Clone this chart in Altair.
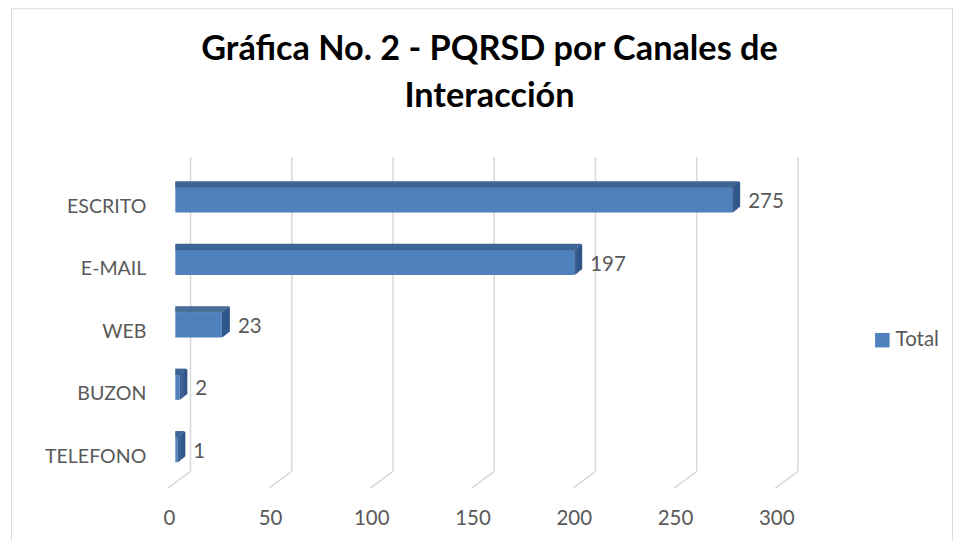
import altair as alt
import pandas as pd

# ---- data ----
CATEGORIES = ["ESCRITO", "E-MAIL", "WEB", "BUZON", "TELEFONO"]
VALUES = [275, 197, 23, 2, 1]
SERIES = "Total"
TICKS = [0, 50, 100, 150, 200, 250, 300]
TITLE_LINES = ["Gráfica No. 2 - PQRSD por Canales de", "Interacción"]

bars = pd.DataFrame({
    "canal": CATEGORIES,
    "valor": VALUES,
    "serie": [SERIES] * len(CATEGORIES),
})
ticks = pd.DataFrame({"tick": TICKS})
one = pd.DataFrame({"k": [0]})

# ---- style ----
FONT = "Lato"
FRONT = "#4f81bd"
TOP = "#3e6592"
SIDE = "#30568a"
GRID = "#d9d9d9"
TXT = "#595959"
LBL = 20.5
CAT_LBL = 19.6
BAND = 62.5          # px per category band
FRONT_H = 25.0       # px, front face height
DEPTH_X = 7.5        # px, 3-D depth offset to the right
DEPTH_Y = 6.0        # px, 3-D depth offset upwards

xs = alt.Scale(domain=[0, 300], range=[167.5, 775.6], nice=False, zero=True)
ys = alt.Scale(domain=CATEGORIES, range=[160.75, 473.25], paddingInner=0, paddingOuter=0)

X = alt.X("valor:Q", scale=xs, axis=None, stack=None)
XT = alt.X("tick:Q", scale=xs, axis=None)
Y = alt.Y("canal:N", scale=ys, axis=None, sort=CATEGORIES)

border = alt.Chart(one).mark_rect(fillOpacity=0, stroke=GRID, strokeWidth=1).encode(
    x=alt.value(3.5), x2=alt.value(945.5), y=alt.value(0.5), y2=alt.value(700)
)

grid_v = alt.Chart(ticks).mark_rule(color=GRID, strokeWidth=1.5, xOffset=15.2).encode(
    x=XT, y=alt.value(149), y2=alt.value(463.5)
)
grid_d = alt.Chart(ticks).mark_rule(color=GRID, strokeWidth=1.5, xOffset=15.2, x2Offset=-7.8).encode(
    x=XT, x2="tick:Q", y=alt.value(463.5), y2=alt.value(480.5)
)
tick_lbl = alt.Chart(ticks).mark_text(
    font=FONT, fontSize=LBL, color=TXT, align="center", baseline="middle", dx=-6
).encode(x=XT, y=alt.value(511), text="tick:Q")

# top face: sheared parallelogram built from thin horizontal slices
top_layers = []
N_TOP = 6
for k in range(N_TOP):
    dy = -(FRONT_H / 2 + (k + 0.5) * DEPTH_Y / N_TOP)
    dx = (k + 0.5) * DEPTH_X / N_TOP
    top_layers.append(
        alt.Chart(bars).mark_bar(
            color=TOP, height=alt.RelativeBandSize(band=1.6 / BAND),
            xOffset=dx, x2Offset=dx, yOffset=dy, y2Offset=dy,
        ).encode(x=X, y=Y)
    )

# right face: sheared parallelogram built from thin vertical slices
side_layers = []
N_SIDE = 8
w = DEPTH_X / N_SIDE
for j in range(N_SIDE):
    dy = -(j + 0.5) * DEPTH_Y / N_SIDE
    side_layers.append(
        alt.Chart(bars).mark_bar(
            color=SIDE, height=alt.RelativeBandSize(band=FRONT_H / BAND),
            xOffset=j * w, x2Offset=(j + 1) * w + 0.5, yOffset=dy, y2Offset=dy,
        ).encode(x=X, x2="valor:Q", y=Y)
    )

front_face = alt.Chart(bars).mark_bar(height=alt.RelativeBandSize(band=FRONT_H / BAND)).encode(
    x=X, y=Y,
    color=alt.Color(
        "serie:N",
        scale=alt.Scale(domain=[SERIES], range=[FRONT]),
        legend=alt.Legend(
            orient="none", legendX=865, legendY=322, title=None,
            symbolType="square", symbolSize=210, symbolStrokeWidth=0,
            labelFont=FONT, labelFontSize=LBL, labelColor=TXT, labelOffset=3, padding=0,
        ),
    ),
)

val_lbl = alt.Chart(bars).mark_text(
    font=FONT, fontSize=LBL, color=TXT, align="left", baseline="middle", dx=16, dy=2
).encode(x=X, y=Y, text="valor:Q")

cat_lbl = alt.Chart(bars).mark_text(
    font=FONT, fontSize=CAT_LBL, color=TXT, align="right", baseline="middle", dy=7
).encode(x=alt.value(138.5), y=Y, text="canal:N")

titles = [
    alt.Chart(one).mark_text(
        font=FONT, fontWeight="bold", fontSize=34.3, color="#000000",
        align="center", baseline="middle",
    ).encode(x=alt.value(482), y=alt.value(42 + 47 * i), text=alt.value(line))
    for i, line in enumerate(TITLE_LINES)
]

chart = alt.layer(
    border, grid_v, grid_d, tick_lbl, *top_layers, *side_layers, front_face, val_lbl, cat_lbl, *titles
).properties(
    width=946, height=533, autosize=alt.AutoSizeParams(type="none"), padding=0, background="white"
).configure_view(strokeWidth=0)

chart.save("out.html", embed_options={"renderer": "svg", "actions": False})
